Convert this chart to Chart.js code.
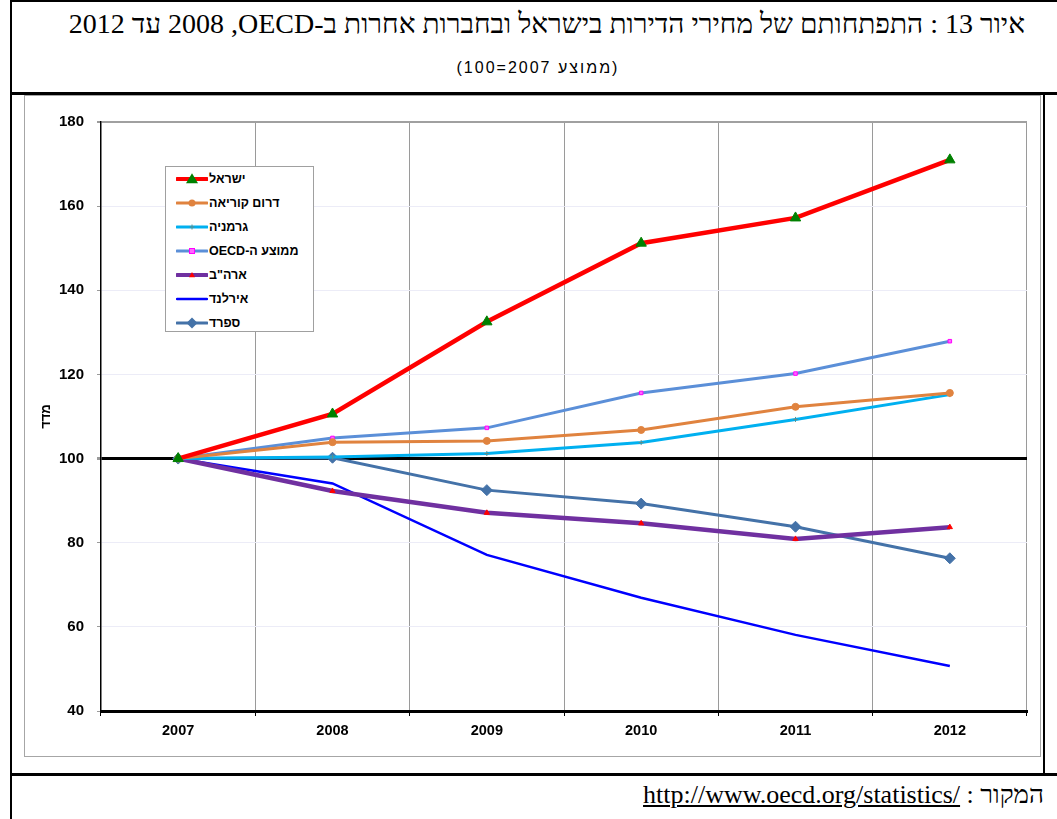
<!DOCTYPE html>
<html lang="he">
<head>
<meta charset="utf-8">
<script src="https://cdn.jsdelivr.net/npm/chart.js@4.4.1/dist/chart.umd.min.js"></script>
<style>
  html, body { margin:0; padding:0; background:#fff; width:1057px; height:819px; overflow:hidden; }
  .hl { position:absolute; background:#000; }
  #title { position:absolute; top:6px; right:32px; width:1000px; text-align:right; direction:rtl;
           font-family:"Liberation Serif","Times New Roman",serif; font-size:28px; line-height:36px; color:#000; white-space:nowrap; }
  #subtitle { position:absolute; top:57px; left:21px; width:1034px; text-align:center; direction:rtl;
           font-family:"Liberation Sans",Arial,sans-serif; font-size:16px; letter-spacing:2px; line-height:22px; color:#000; }
  #footer { position:absolute; top:778px; right:13px; direction:rtl; white-space:nowrap;
           font-family:"Liberation Serif","Times New Roman",serif; font-size:26px; line-height:34px; color:#000; }
  #footer bdi { text-decoration:underline; }
  #frame { position:absolute; left:24px; top:95px; width:1017px; height:662px; border:1px solid #a6a6a6; box-sizing:border-box; }
  #chartWrap { position:absolute; left:24px; top:95px; width:1018px; height:662px; }
  #legend { position:absolute; left:165px; top:166px; width:149px; height:166px; border:1px solid #a0a0a0; box-sizing:border-box; background:#fff; }
  .lrow { height:24px; display:flex; align-items:center; direction:ltr; }
  .lrow svg { margin-left:10px; flex:none; }
  .lrow span { direction:rtl; font-family:"Liberation Sans",Arial,sans-serif; font-weight:bold; font-size:12.5px; color:#000; margin-left:1px; white-space:nowrap; }
</style>
</head>
<body>
<!-- outer frame lines -->
<div class="hl" style="left:10px; top:0px; width:1047px; height:2px;"></div>
<div class="hl" style="left:10px; top:0px; width:2px; height:819px;"></div>
<div class="hl" style="left:10px; top:92px; width:1047px; height:3px;"></div>
<div class="hl" style="left:1043px; top:92px; width:2px; height:684px;"></div>
<div class="hl" style="left:10px; top:773px; width:1047px; height:3px;"></div>

<div id="title">איור 13 : התפתחותם של מחירי הדירות בישראל ובחברות אחרות ב-OECD&#x200F;, 2008 עד 2012</div>
<div id="subtitle">(ממוצע 2007=100)</div>

<div id="frame"></div>
<div id="chartWrap"><canvas id="c" width="1018" height="662"></canvas></div>
<div id="legend"></div>

<div id="footer">המקור : <bdi dir="ltr">http://www.oecd.org/statistics/</bdi></div>

<script>
// ---- data ----
const years = ['2007', '2008', '2009', '2010', '2011', '2012'];
const israel     = [100, 110.6, 132.5, 151.2, 157.2, 171.0];
const southKorea = [100, 103.9, 104.2, 106.8, 112.3, 115.6];
const germany    = [100, 100.4, 101.2, 103.8, 109.3, 115.2];
const oecdAvg    = [100, 104.9, 107.3, 115.6, 120.2, 127.9];
const usa        = [100, 92.3, 87.1, 84.6, 80.9, 83.7];
const ireland    = [100, 94.1, 77.1, 66.9, 58.1, 50.7];
const spain      = [100, 100.2, 92.5, 89.3, 83.8, 76.3];
const seriesNames = ['ישראל', 'דרום קוריאה', 'גרמניה', 'ממוצע ה-OECD', 'ארה"ב', 'אירלנד', 'ספרד'];
const yTitle = 'מדד';
const yMin = 40, yMax = 180, yStep = 20;

// ---- styles ----
const styles = [
  { data: israel,     line:'#FF0000', width:4.5, point:'triangle', r:6,   pFill:'#008000', pBorder:'#008000' },
  { data: southKorea, line:'#E0833F', width:3,   point:'circle',   r:3.5, pFill:'#E0833F', pBorder:'#E0833F' },
  { data: germany,    line:'#00B0F0', width:3,   point:'cross',    r:2.5, pFill:'#5B8E8E', pBorder:'#5B8E8E' },
  { data: oecdAvg,    line:'#5B8FD8', width:3,   point:'rect',     r:2.5, pFill:'#FF66FF', pBorder:'#FF00FF' },
  { data: usa,        line:'#7030A0', width:4.5, point:'triangle', r:3,   pFill:'#FF0000', pBorder:'#FF0000' },
  { data: ireland,    line:'#0000FF', width:2.5, point:'circle',   r:0,   pFill:'#0000FF', pBorder:'#0000FF' },
  { data: spain,      line:'#4472A8', width:3,   point:'rectRot',  r:5.5, pFill:'#4472A8', pBorder:'#4472A8' }
];

const datasets = styles.map((s, i) => ({
  label: seriesNames[i],
  data: s.data,
  borderColor: s.line,
  backgroundColor: s.line,
  borderWidth: s.width,
  pointStyle: s.point,
  pointRadius: s.r,
  pointHoverRadius: s.r,
  pointBackgroundColor: s.pFill,
  pointBorderColor: s.pBorder,
  pointBorderWidth: 1,
  tension: 0,
  fill: false
}));

Chart.defaults.font.family = '"Liberation Sans", Arial, sans-serif';
Chart.defaults.color = '#000';

new Chart(document.getElementById('c'), {
  type: 'line',
  data: { labels: years, datasets },
  options: {
    responsive: false,
    devicePixelRatio: 1,
    animation: false,
    layout: { padding: { left: 0, right: 15, top: 27, bottom: 0 } },
    plugins: { legend: { display: false }, tooltip: { enabled: false } },
    scales: {
      x: {
        type: 'category',
        offset: true,
        grid: { offset: true, color: '#9a9a9a', lineWidth: 1, tickLength: 5, tickColor: '#000', drawTicks: true },
        border: { color: '#000', width: 3 },
        ticks: { font: { size: 14.5, weight: 'bold' }, padding: 6, maxRotation: 0, color: '#000' },
        afterFit: (s) => { s.height = 46; }
      },
      y: {
        min: yMin, max: yMax,
        ticks: { stepSize: yStep, font: { size: 15, weight: 'bold' }, padding: 13, color: '#000' },
        grid: {
          tickLength: 4,
          tickColor: '#9a9a9a',
          color: (ctx) => {
            const v = ctx.tick && ctx.tick.value;
            if (v === 100) return '#000';
            if (v === yMax) return '#a0a0a0';
            return '#ececf7';
          },
          lineWidth: (ctx) => {
            const v = ctx.tick && ctx.tick.value;
            if (v === 100) return 3;
            if (v === yMax) return 2;
            return 1;
          }
        },
        border: { color: '#000', width: 1.5 },
        title: { display: true, text: yTitle, font: { size: 13, weight: 'bold' }, padding: { top: 15, bottom: 0 }, color: '#000' },
        afterFit: (s) => { s.width = 77; }
      }
    }
  }
});

// ---- HTML legend built from the same series definitions ----
function markerSvg(s) {
  const cx = 16, cy = 6, r = s.r;
  if (r === 0) return '';
  switch (s.point) {
    case 'triangle': {
      const h = r * 1.6;
      return `<polygon points="${cx},${cy - h * 0.6} ${cx - r},${cy + h * 0.45} ${cx + r},${cy + h * 0.45}" fill="${s.pFill}" />`;
    }
    case 'circle': return `<circle cx="${cx}" cy="${cy}" r="${r}" fill="${s.pFill}" />`;
    case 'rect': return `<rect x="${cx - r}" y="${cy - r}" width="${2 * r}" height="${2 * r}" fill="${s.pFill}" stroke="${s.pBorder}" stroke-width="1"/>`;
    case 'cross': return `<path d="M${cx - r} ${cy}H${cx + r}M${cx} ${cy - r}V${cy + r}" stroke="${s.pBorder}" stroke-width="1"/>`;
    case 'rectRot': return `<polygon points="${cx},${cy - r} ${cx + r},${cy} ${cx},${cy + r} ${cx - r},${cy}" fill="${s.pFill}" />`;
  }
  return '';
}
const legendEl = document.getElementById('legend');
styles.forEach((s, i) => {
  const row = document.createElement('div');
  row.className = 'lrow';
  row.innerHTML = `<svg width="32" height="12" viewBox="0 0 32 12"><line x1="1" y1="6" x2="31" y2="6" stroke="${s.line}" stroke-width="${Math.min(s.width, 4)}" stroke-linecap="round"/>${markerSvg(s)}</svg><span>${seriesNames[i]}</span>`;
  legendEl.appendChild(row);
});
</script>
</body>
</html>
